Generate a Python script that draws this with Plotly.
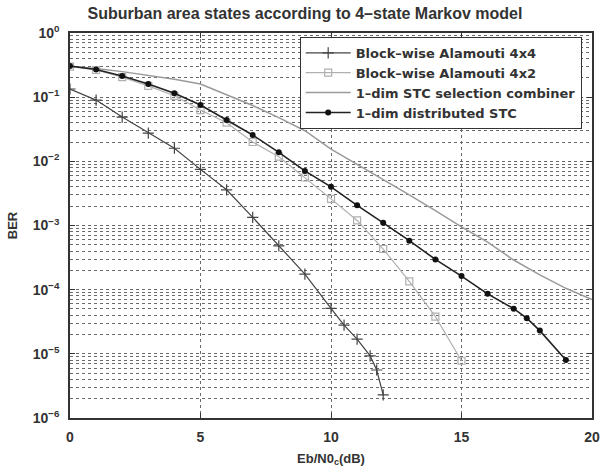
import plotly.graph_objects as go

# ---- data ----
x_4x4 = [0, 1, 2, 3, 4, 5, 6, 7, 8, 9, 10, 10.5, 11, 11.5, 11.75, 12]
ber_4x4 = [0.134, 0.090, 0.049, 0.0276, 0.016, 0.0075, 0.0036, 0.00134, 4.8e-4, 1.75e-4,
           5.1e-5, 2.8e-5, 1.7e-5, 9.3e-6, 5.6e-6, 2.3e-6]

x_4x2 = [0, 1, 2, 3, 4, 5, 6, 7, 8, 9, 10, 11, 12, 13, 14, 15]
ber_4x2 = [0.30, 0.265, 0.205, 0.15, 0.105, 0.063, 0.040, 0.020, 0.0118, 5.6e-3,
           2.6e-3, 1.2e-3, 4.3e-4, 1.35e-4, 3.8e-5, 7.8e-6]

x_sel = list(range(0, 21))
ber_sel = [0.30, 0.28, 0.25, 0.22, 0.19, 0.16, 0.11, 0.074, 0.048, 0.030, 0.0155, 0.0090,
           0.0053, 0.0030, 0.0017, 9.5e-4, 5.5e-4, 2.9e-4, 1.7e-4, 1.05e-4, 7.0e-5]

x_dist = [0, 1, 2, 3, 4, 5, 6, 7, 8, 9, 10, 11, 12, 13, 14, 15, 16, 17, 17.5, 18, 19]
ber_dist = [0.306, 0.27, 0.214, 0.16, 0.115, 0.0755, 0.044, 0.0257, 0.0138, 7.1e-3, 4.0e-3,
            2.06e-3, 1.1e-3, 5.8e-4, 2.96e-4, 1.63e-4, 8.6e-5, 5.06e-5, 3.6e-5, 2.3e-5, 8.0e-6]

names = ["Block\u2013wise Alamouti 4x4", "Block\u2013wise Alamouti 4x2",
         "1\u2013dim STC selection combiner", "1\u2013dim distributed STC"]

y_tickvals = [1, 1e-1, 1e-2, 1e-3, 1e-4, 1e-5, 1e-6]
y_ticktext = ["10<sup>0</sup>", "10<sup>\u22121</sup>", "10<sup>\u22122</sup>", "10<sup>\u22123</sup>",
              "10<sup>\u22124</sup>", "10<sup>\u22125</sup>", "10<sup>\u22126</sup>"]
x_tickvals = [0, 5, 10, 15, 20]

FONT = "Liberation Sans, Arial, sans-serif"
LFONT = "DejaVu Sans, sans-serif"

fig = go.Figure()
fig.add_trace(go.Scatter(x=x_4x4, y=ber_4x4, name=names[0], mode="lines+markers",
                         line=dict(color="#444444", width=1.2),
                         marker=dict(symbol="cross-thin-open", size=8,
                                     line=dict(color="#444444", width=1.2))))
fig.add_trace(go.Scatter(x=x_4x2, y=ber_4x2, name=names[1], mode="lines+markers",
                         line=dict(color="#b0b0b0", width=1.2),
                         marker=dict(symbol="square-open", size=7, color="#b0b0b0",
                                     line=dict(color="#b0b0b0", width=1.2))))
fig.add_trace(go.Scatter(x=x_sel, y=ber_sel, name=names[2], mode="lines",
                         line=dict(color="#9a9a9a", width=1.5)))
fig.add_trace(go.Scatter(x=x_dist, y=ber_dist, name=names[3], mode="lines+markers",
                         line=dict(color="#222222", width=1.6),
                         marker=dict(symbol="circle", size=6, color="#111111")))

axis_common = dict(showline=True, linecolor="#333333", linewidth=1.5, mirror="allticks",
                   ticks="inside", ticklen=5, tickcolor="#333333",
                   showgrid=True, gridcolor="#6a6a6a", griddash="dot", gridwidth=1,
                   zeroline=False,
                   tickfont=dict(family=FONT, size=14, color="#333333", weight="bold"))

fig.update_xaxes(range=[0, 20], tickvals=x_tickvals, ticklabelstandoff=5,
                 title=dict(text="Eb/N0<sub>c</sub>(dB)", standoff=10,
                            font=dict(family=FONT, size=13, color="#333333", weight="bold")),
                 **axis_common)
fig.update_yaxes(type="log", range=[-6, 0], tickvals=y_tickvals, ticktext=y_ticktext,
                 ticklabelstandoff=6,
                 minor=dict(dtick="D1", showgrid=True, gridcolor="#6a6a6a", griddash="dot",
                            gridwidth=1, ticks=""),
                 title=dict(text="BER", standoff=12,
                            font=dict(family=FONT, size=13, color="#333333", weight="bold")),
                 **axis_common)

fig.update_layout(
    width=609, height=474,
    margin=dict(l=70, r=9, t=33, b=56),
    paper_bgcolor="white", plot_bgcolor="white",
    title=dict(text="Suburban area states according to 4\u2013state Markov model",
               x=305 / 609, xref="container", xanchor="center",
               y=1 - 13 / 474, yref="container", yanchor="middle",
               font=dict(family=FONT, size=16, color="#333333", weight="bold")),
    legend=dict(x=0.44, y=0.99, xanchor="left", yanchor="top",
                bgcolor="white", bordercolor="#333333", borderwidth=1,
                itemwidth=45, tracegroupgap=0,
                font=dict(family=LFONT, size=13, color="#333333", weight="bold")),
    showlegend=True,
)

fig.write_html("out.html")
